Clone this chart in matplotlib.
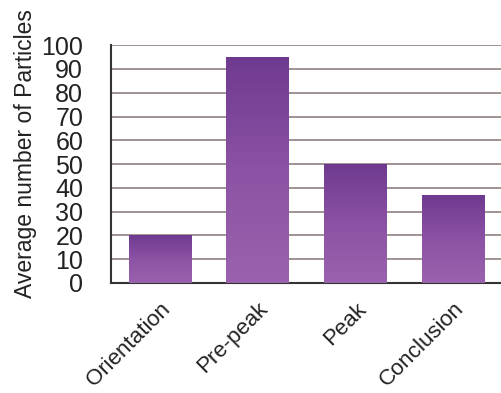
import numpy as np
import matplotlib
matplotlib.use("Agg")
import matplotlib.pyplot as plt
from matplotlib.colors import LinearSegmentedColormap

plt.rcParams["font.family"] = ["Liberation Sans", "DejaVu Sans"]

categories = ["Orientation", "Pre-peak", "Peak", "Conclusion"]
values = [20, 95, 50, 37]
y_ticks = list(range(0, 101, 10))

fig = plt.figure(figsize=(5.02, 3.93), dpi=100)
ax = fig.add_axes([0.221, 0.280, 0.779, 0.605])

x = np.arange(len(categories))
bars = ax.bar(x, values, width=0.64, color="none", edgecolor="none", zorder=3)

# top darker, lighter towards the base
cmap = LinearSegmentedColormap.from_list("purp", ["#9a62ae", "#8c52a4", "#6e3a90"])
grad = np.linspace(0, 1, 256).reshape(-1, 1)
for b in bars:
    x0, y0 = b.get_x(), b.get_y()
    w, h = b.get_width(), b.get_height()
    im = ax.imshow(grad, cmap=cmap, origin="lower", aspect="auto",
                   extent=[x0, x0 + w, y0, y0 + h], zorder=3)
    im.set_clip_path(b)

ax.set_xlim(-0.5, 3.5)
ax.set_ylim(0, 100)
ax.set_yticks(y_ticks)
ax.set_yticklabels([str(t) for t in y_ticks], fontsize=18, color="#222222")
ax.set_xticks(x)
ax.set_xticklabels(categories, fontsize=16, rotation=45, ha="right",
                   rotation_mode="anchor", color="#222222")
ax.tick_params(axis="both", length=0)
ax.tick_params(axis="y", pad=20)
ax.tick_params(axis="x", pad=11)
ax.set_ylabel("Average number of Particles", fontsize=16.5, color="#222222")
ax.yaxis.set_label_coords(-0.19, 0.545)

ax.yaxis.grid(True, color="#8f8080", linewidth=1.2, zorder=1)
ax.set_axisbelow(True)
for s in ["top", "right"]:
    ax.spines[s].set_visible(False)
ax.spines["left"].set_color("#333333")
ax.spines["bottom"].set_color("#333333")
ax.spines["left"].set_linewidth(1.5)
ax.spines["bottom"].set_linewidth(1.5)

fig.savefig("out.png", dpi=100, facecolor="white")
